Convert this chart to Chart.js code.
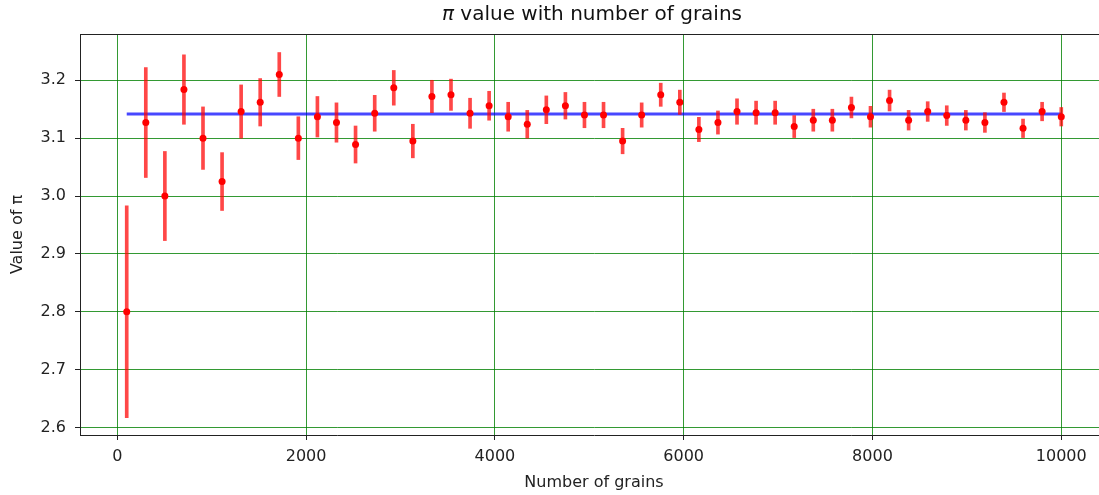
<!DOCTYPE html>
<html>
<head>
<meta charset="utf-8">
<script src="https://cdn.jsdelivr.net/npm/chart.js@4"></script>
<style>
  html, body { margin: 0; padding: 0; background: #fff; overflow: hidden; }
  #wrap { position: relative; width: 1112px; height: 495px; }
</style>
</head>
<body>
<div id="wrap"><canvas id="piChart" width="1112" height="495"></canvas></div>
<script>
// 알갱이 수 (x)
const grains = [100, 302, 504, 706, 908, 1110, 1312, 1514, 1716, 1918,
  2120, 2322, 2524, 2727, 2929, 3131, 3333, 3535, 3737, 3939,
  4141, 4343, 4545, 4747, 4949, 5151, 5353, 5555, 5757, 5959,
  6161, 6363, 6565, 6767, 6969, 7171, 7373, 7575, 7777, 7979,
  8181, 8383, 8585, 8787, 8989, 9191, 9393, 9595, 9797, 10000];

// 추정된 π 값
const piValues = [2.800, 3.127, 3.000, 3.184, 3.100, 3.025, 3.146, 3.162, 3.210, 3.100,
  3.137, 3.127, 3.089, 3.143, 3.187, 3.095, 3.172, 3.175, 3.143, 3.156,
  3.137, 3.124, 3.149, 3.156, 3.140, 3.140, 3.095, 3.140, 3.175, 3.162,
  3.115, 3.127, 3.146, 3.144, 3.144, 3.120, 3.131, 3.131, 3.153, 3.137,
  3.165, 3.131, 3.146, 3.139, 3.131, 3.127, 3.162, 3.117, 3.146, 3.137];

// 오차 (±)
const piErrors = [0.183, 0.095, 0.077, 0.060, 0.054, 0.050, 0.046, 0.041, 0.038, 0.037,
  0.035, 0.034, 0.032, 0.031, 0.030, 0.029, 0.028, 0.027, 0.026, 0.025,
  0.025, 0.024, 0.024, 0.023, 0.022, 0.022, 0.022, 0.021, 0.020, 0.021,
  0.021, 0.020, 0.022, 0.020, 0.020, 0.019, 0.019, 0.019, 0.018, 0.018,
  0.018, 0.017, 0.017, 0.017, 0.017, 0.017, 0.016, 0.016, 0.016, 0.016];

// 기준선 (실제 π)
const refX = [100, 10000];
const refY = [3.14159, 3.14159];

// 눈금
const xTicks = [0, 2000, 4000, 6000, 8000, 10000];
const yTicks = [2.6, 2.7, 2.8, 2.9, 3.0, 3.1, 3.2];

const FONT = 'DejaVu Sans';

// 제목은 축 영역 기준 가운데 정렬 (π 만 기울임)
const axesTitle = {
    id: 'axesTitle',
    afterDraw(chart) {
        const { ctx, chartArea } = chart;
        const size = 20;
        ctx.save();
        ctx.fillStyle = '#111';
        ctx.textBaseline = 'middle';
        ctx.textAlign = 'left';
        const cx = (chartArea.left + chartArea.right) / 2 - 2;
        ctx.font = 'italic ' + size + 'px ' + FONT;
        const piW = ctx.measureText('π').width;
        ctx.font = size + 'px ' + FONT;
        const restW = ctx.measureText(' value with number of grains').width;
        const start = cx - (piW + restW) / 2;
        ctx.font = 'italic ' + size + 'px ' + FONT;
        ctx.fillText('π', start, 15);
        ctx.font = size + 'px ' + FONT;
        ctx.fillText(' value with number of grains', start + piW, 15);
        ctx.restore();
    }
};

// 위/오른쪽 테두리 (matplotlib 상자)
const axesBox = {
    id: 'axesBox',
    afterDraw(chart) {
        const { ctx, chartArea: a } = chart;
        ctx.save();
        ctx.strokeStyle = '#222';
        ctx.lineWidth = 1;
        ctx.beginPath();
        ctx.moveTo(a.left, a.top + 0.5);
        ctx.lineTo(a.right, a.top + 0.5);
        ctx.lineTo(a.right, a.bottom);
        ctx.stroke();
        ctx.restore();
    }
};

new Chart(document.getElementById('piChart'), {
    data: {
        datasets: [
            {
                type: 'scatter',
                data: grains.map((x, i) => ({ x: x, y: piValues[i] })),
                backgroundColor: 'rgb(255,0,0)',
                borderWidth: 0,
                pointRadius: 3.5,
                order: 0
            },
            {
                type: 'bar',
                data: grains.map((x, i) => ({ x: x, y: [piValues[i] - piErrors[i], piValues[i] + piErrors[i]] })),
                backgroundColor: 'rgba(255,0,0,0.72)',
                borderWidth: 0,
                barThickness: 3,
                grouped: false,
                order: 1
            },
            {
                type: 'line',
                data: refX.map((x, i) => ({ x: x, y: refY[i] })),
                borderColor: 'rgba(0,0,255,0.72)',
                borderWidth: 3,
                pointRadius: 0,
                fill: false,
                order: 2
            }
        ]
    },
    options: {
        responsive: false,
        animation: false,
        events: [],
        layout: { padding: { top: 34, right: 3, left: 0, bottom: 0 } },
        plugins: { legend: { display: false }, tooltip: { enabled: false } },
        scales: {
            x: {
                type: 'linear',
                offset: false,
                min: -395, max: 10495,
                afterBuildTicks(scale) { scale.ticks = xTicks.map(v => ({ value: v })); },
                grid: { color: 'rgba(0,128,0,0.8)', offset: false, tickColor: '#222', tickLength: 5 },
                border: { color: '#222', width: 1 },
                ticks: { color: '#222', padding: 7, autoSkip: false,
                         font: { family: FONT, size: 16 }, maxRotation: 0,
                         callback: v => String(v) },
                title: { display: true, text: 'Number of grains', color: '#222',
                         font: { family: FONT, size: 16 }, padding: { top: 0, bottom: 3 } },
                afterFit(scale) { scale.height = 60; }
            },
            y: {
                type: 'linear',
                min: 2.587, max: 3.280,
                afterBuildTicks(scale) { scale.ticks = yTicks.map(v => ({ value: v })); },
                grid: { color: 'rgba(0,128,0,0.8)', tickColor: '#222', tickLength: 5 },
                border: { color: '#222', width: 1 },
                ticks: { color: '#222', padding: 9, autoSkip: false,
                         font: { family: FONT, size: 16 },
                         callback: v => v.toFixed(1) },
                title: { display: true, text: 'Value of π', color: '#222',
                         font: { family: FONT, size: 16 }, padding: { top: 8, bottom: 0 } },
                afterFit(scale) { scale.width = 80; }
            }
        }
    },
    plugins: [axesTitle, axesBox]
});
</script>
</body>
</html>
